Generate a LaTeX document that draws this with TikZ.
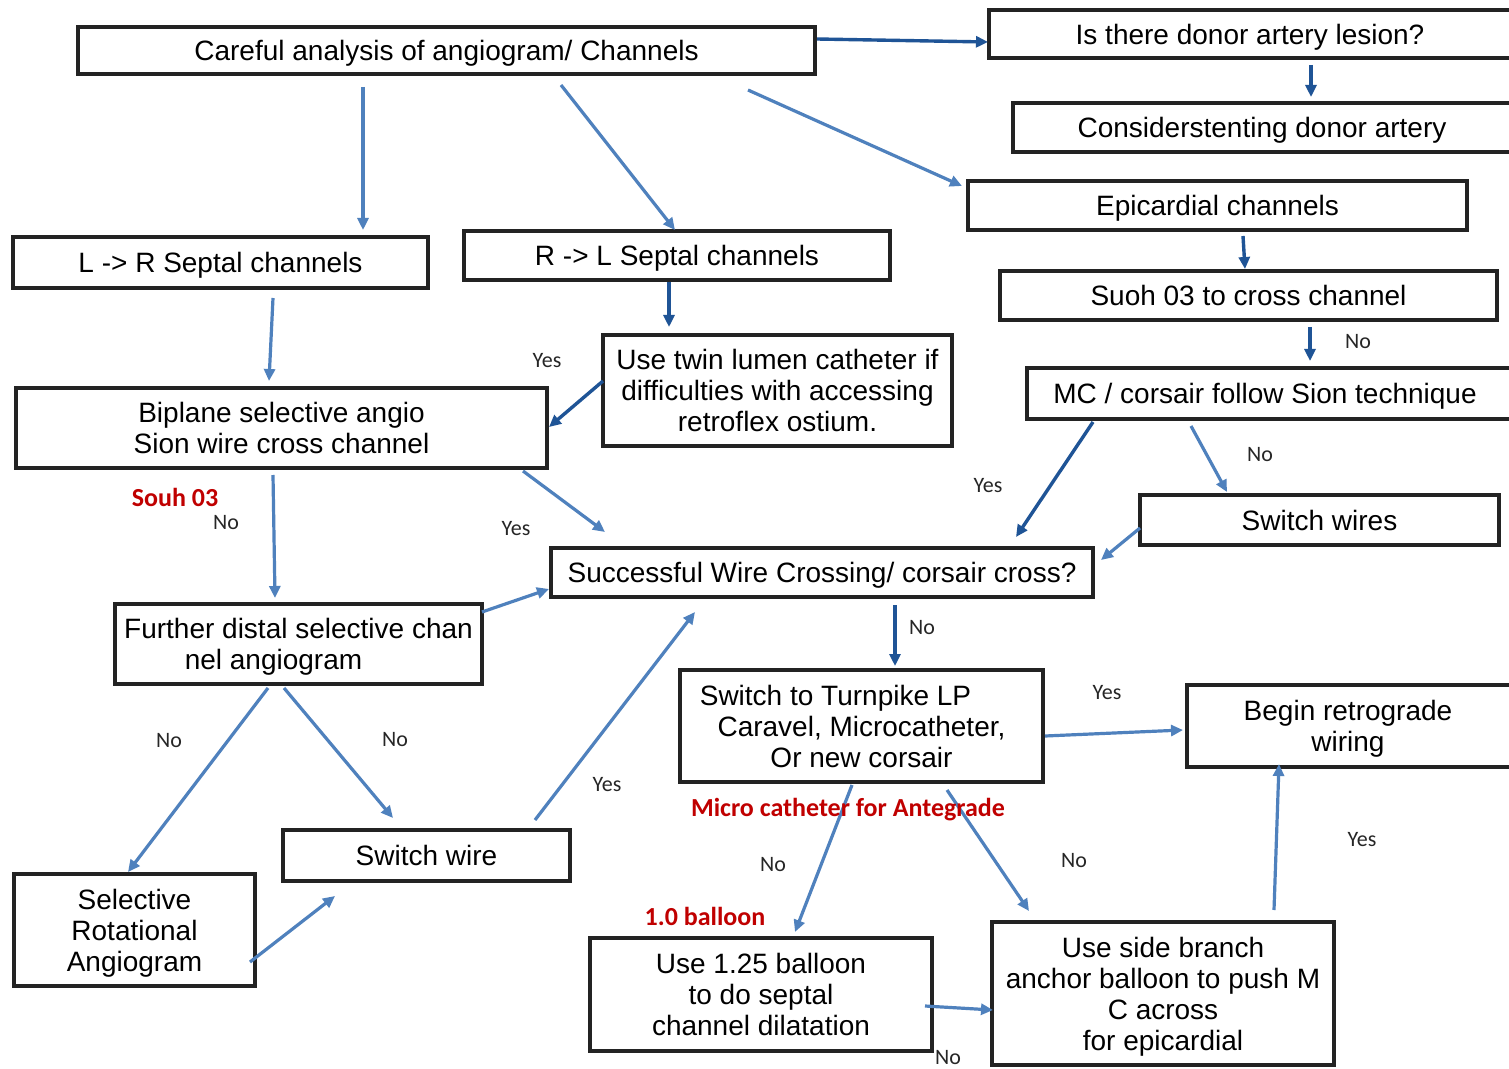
\documentclass[tikz,border=0pt]{standalone}
\usepackage{fontspec}
\setmainfont{Liberation Sans}
\newfontfamily\lblfont{Carlito}
\usetikzlibrary{arrows.meta,calc}
\definecolor{dkblue}{RGB}{31,84,150}
\definecolor{mdblue}{RGB}{79,129,189}
\definecolor{boxline}{RGB}{35,35,35}
\definecolor{redlbl}{RGB}{192,0,0}
\begin{document}
\begin{tikzpicture}[x=0.5pt,y=-0.5pt,
 bx/.style={draw=boxline, line width=2pt, inner sep=0pt, align=center, text depth=0pt, font=\fontsize{14}{15.5}\selectfont},
 arr/.style={draw=mdblue, line width=1.6pt, -{Triangle[length=6pt,width=5.5pt]}},
 darr/.style={arr, draw=dkblue, line width=1.7pt},
 yn/.style={font=\lblfont\fontsize{11}{13}\selectfont, text=black!85},
 redtxt/.style={font=\lblfont\bfseries\fontsize{13}{15}\selectfont, text=redlbl}]
\useasboundingbox (0,0) rectangle (1509,1069);
\fill[white] (0,0) rectangle (1509,1069);

% boxes: at centre, size in px * 0.5pt
\node[bx, minimum width=368.5pt, minimum height=23.5pt] (careful) at (446.5,50.5) {Careful analysis of angiogram/ Channels};
\node[bx, minimum width=265.5pt, minimum height=24pt] (donor) at (1254.5,34) {Is there donor artery lesion?\hspace*{4.5pt}};
\node[bx, minimum width=253.5pt, minimum height=24.5pt] (consider) at (1266.5,127.5) {Considerstenting donor artery\hspace*{4.5pt}};
\node[bx, minimum width=249.5pt, minimum height=24.5pt] (epi) at (1217.5,205.5) {Epicardial channels};
\node[bx, minimum width=248.5pt, minimum height=24.5pt] (suoh) at (1248.5,295.5) {Suoh 03 to cross channel};
\node[bx, minimum width=246.5pt, minimum height=25.5pt] (mc) at (1273.5,393.5) {MC / corsair follow Sion technique\hspace*{8.5pt}};
\node[bx, minimum width=179.5pt, minimum height=25pt] (swires) at (1319.5,520) {Switch wires};
\node[bx, minimum width=207.5pt, minimum height=25.5pt] (lr) at (220.5,262.5) {L -> R Septal channels};
\node[bx, minimum width=213pt, minimum height=24.5pt] (rl) at (677,255.5) {R -> L Septal channels};
\node[bx, minimum width=174.5pt, minimum height=55.5pt] (twin) at (777.5,390.5) {Use twin lumen catheter if\\difficulties with accessing\\retroflex ostium.};
\node[bx, minimum width=265.5pt, minimum height=40pt] (biplane) at (281.5,428) {Biplane selective angio\\Sion wire cross channel};
\node[bx, minimum width=271pt, minimum height=24.5pt] (success) at (822,572.5) {Successful Wire Crossing/ corsair cross?};
\node[bx, minimum width=183.5pt, minimum height=40pt] (further) at (298.5,644) {Further distal selective chan\\nel angiogram\hspace*{25pt}};
\node[bx, minimum width=120.5pt, minimum height=56pt] (rot) at (134.5,930) {Selective\\Rotational\\Angiogram};
\node[bx, minimum width=143.5pt, minimum height=25.5pt] (swire) at (426.5,855.5) {Switch wire};
\node[bx, minimum width=181.5pt, minimum height=56pt] (turn) at (861.5,726) {Switch to Turnpike LP\hspace*{26pt}\\Caravel, Microcatheter,\\Or new corsair};
\node[bx, minimum width=166.5pt, minimum height=41pt] (begin) at (1353.5,726) {Begin retrograde\hspace*{5.5pt}\\wiring\hspace*{5.5pt}};
\node[bx, minimum width=171pt, minimum height=56.5pt] (balloon) at (761,994.5) {Use 1.25 balloon\\to do septal\\channel dilatation};
\node[bx, minimum width=171pt, minimum height=71.5pt] (side) at (1163,993.5) {Use side branch\\anchor balloon to push M\\C across\\for epicardial};

% connectors
\draw[darr] ($(careful.center)+(370.5,-11.5)$) -- ($(donor.center)+(-266.5,8)$);
\draw[darr] ($(donor.center)+(56.5,31)$) -- ($(consider.center)+(44.5,-30.5)$);
\draw[arr] ($(careful.center)+(-83.5,36.5)$) -- ($(lr.center)+(142.5,-32.5)$);
\draw[arr] ($(careful.center)+(114.5,34.5)$) -- ($(rl.center)+(-2,-25.5)$);
\draw[arr] ($(careful.center)+(301.5,39.5)$) -- ($(epi.center)+(-255.5,-19.5)$);
\draw[darr] ($(epi.center)+(25.5,30.5)$) -- ($(suoh.center)+(-3.5,-26.5)$);
\draw[darr] ($(suoh.center)+(61.5,31.5)$) -- ($(mc.center)+(36.5,-32.5)$);
\draw[darr] ($(rl.center)+(-8,26.5)$) -- ($(twin.center)+(-108.5,-63.5)$);
\draw[darr] ($(twin.center)+(-174.5,-9.5)$) -- ($(biplane.center)+(267.5,-1)$);
\draw[arr] ($(lr.center)+(52.5,35.5)$) -- ($(biplane.center)+(-12.5,-47)$);
\draw[arr] ($(biplane.center)+(241.5,43)$) -- ($(success.center)+(-217,-40.5)$);
\draw[arr] ($(biplane.center)+(-8.5,47)$) -- ($(further.center)+(-23.5,-46)$);
\draw[arr] ($(further.center)+(183.5,-32)$) -- ($(success.center)+(-273,16.5)$);
\draw[arr] ($(further.center)+(-30.5,44)$) -- ($(rot.center)+(-6.5,-58)$);
\draw[arr] ($(further.center)+(-14.5,44)$) -- ($(swire.center)+(-33.5,-37.5)$);
\draw[arr] ($(swire.center)+(108.5,-35.5)$) -- ($(success.center)+(-127,39.5)$);
\draw[arr] ($(rot.center)+(115.5,32)$) -- ($(swire.center)+(-91.5,40.5)$);
\draw[darr] ($(mc.center)+(-180.5,28.5)$) -- ($(success.center)+(194,-35.5)$);
\draw[arr] ($(mc.center)+(-82.5,32.5)$) -- ($(swires.center)+(-92.5,-28)$);
\draw[arr] ($(swires.center)+(-179.5,8)$) -- ($(success.center)+(279,-12.5)$);
\draw[darr] ($(success.center)+(73,32.5)$) -- ($(turn.center)+(33.5,-60)$);
\draw[arr] ($(turn.center)+(183.5,10)$) -- ($(begin.center)+(-170.5,4)$);
\draw[arr] ($(turn.center)+(-9.5,59)$) -- ($(balloon.center)+(34,-62.5)$);
\draw[arr] ($(turn.center)+(85.5,64)$) -- ($(side.center)+(-134,-82.5)$);
\draw[arr] ($(side.center)+(111,-83.5)$) -- ($(begin.center)+(-74.5,38)$);
\draw[arr] ($(balloon.center)+(164,11.5)$) -- ($(side.center)+(-170,16.5)$);

% yes / no labels
\node[yn] (l1) at (547,361) {Yes};
\node[yn] (l2) at (1358,342) {No};
\node[yn] (l3) at (1260,455) {No};
\node[yn] (l4) at (988,486) {Yes};
\node[yn] (l5) at (226,523) {No};
\node[yn] (l6) at (516,529) {Yes};
\node[yn] (l7) at (922,628) {No};
\node[yn] (l8) at (169,741) {No};
\node[yn] (l9) at (395,740) {No};
\node[yn] (l10) at (607,785) {Yes};
\node[yn] (l11) at (1107,693) {Yes};
\node[yn] (l12) at (1362,840) {Yes};
\node[yn] (l13) at (773,865) {No};
\node[yn] (l14) at (1074,861) {No};
\node[yn] (l15) at (948,1058) {No};

% red notes
\node[redtxt] (r1) at (175,497) {Souh 03};
\node[redtxt] (r2) at (848,810) {Micro catheter for Antegrade};
\node[redtxt] (r3) at (705,916) {1.0 balloon};
\end{tikzpicture}
\end{document}
